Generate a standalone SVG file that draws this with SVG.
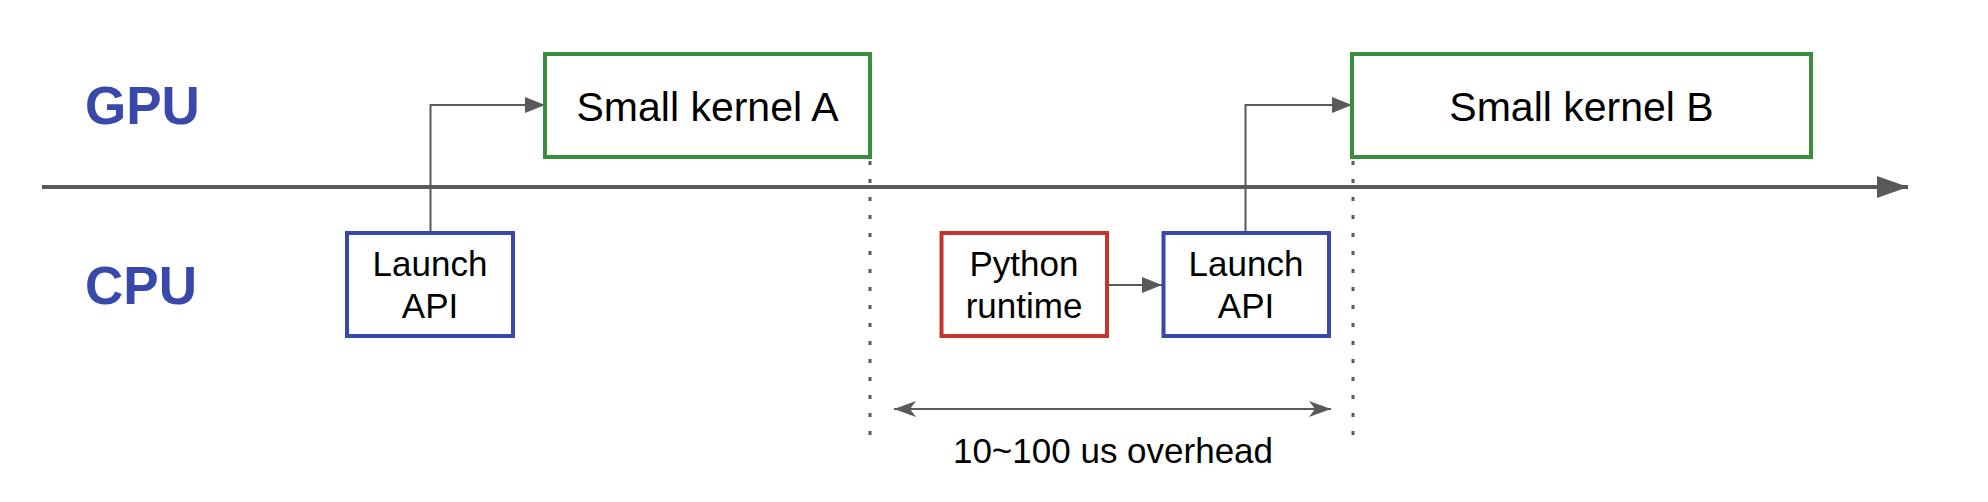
<svg xmlns="http://www.w3.org/2000/svg" width="1988" height="502" viewBox="0 0 1988 502">
<style>
text{font-family:"Liberation Sans",Arial,sans-serif;fill:#000}
.lane{font-weight:bold;font-size:53px;fill:#3949AB}
.gpu{fill:#fff;stroke:#388E3C;stroke-width:4}
.cpu{fill:#fff;stroke:#3949AB;stroke-width:4}
.py{fill:#fff;stroke:#C5352B;stroke-width:4}
.big{font-size:41px;text-anchor:middle}
.mid{font-size:35px;text-anchor:middle}
.conn{fill:none;stroke:#595959;stroke-width:2}
.dot{stroke:#595959;stroke-width:3;stroke-dasharray:4 14}
</style>
<defs>
<marker id="ah" markerWidth="20" markerHeight="16" refX="20" refY="8" orient="auto" markerUnits="userSpaceOnUse"><path d="M0,0 L20,8 L0,16 Z" fill="#595959"/></marker>
<marker id="big" markerWidth="31" markerHeight="22" refX="31" refY="11" orient="auto" markerUnits="userSpaceOnUse"><path d="M0,0 L31,11 L0,22 Z" fill="#595959"/></marker>
<marker id="open" markerWidth="22" markerHeight="16" refX="22" refY="8" orient="auto-start-reverse" markerUnits="userSpaceOnUse"><path d="M0,0 L22,8 L0,16 L6,8 Z" fill="#595959"/></marker>
</defs>
<g id="labels">
<text class="lane" x="85" y="124">GPU</text>
<text class="lane" x="85" y="304">CPU</text>
</g>
<g id="connectors">
<line x1="42" y1="187" x2="1908" y2="187" stroke="#595959" stroke-width="4" marker-end="url(#big)"/>
<line class="dot" x1="870" y1="161" x2="870" y2="436"/>
<line class="dot" x1="1353" y1="161" x2="1353" y2="436"/>
<path class="conn" d="M430.5,233 V105 H545" marker-end="url(#ah)"/>
<path class="conn" d="M1245.5,233 V105 H1352" marker-end="url(#ah)"/>
<line class="conn" x1="1107" y1="285" x2="1162" y2="285" marker-end="url(#ah)"/>
<line class="conn" x1="894" y1="409" x2="1331" y2="409" marker-start="url(#open)" marker-end="url(#open)"/>
</g>
<g id="kernelA">
<rect class="gpu" x="545" y="54" width="325" height="103"/>
<text class="big" x="707.5" y="121">Small kernel A</text>
</g>
<g id="kernelB">
<rect class="gpu" x="1352" y="54" width="459" height="103"/>
<text class="big" x="1581.5" y="121">Small kernel B</text>
</g>
<g id="launch1">
<rect class="cpu" x="347" y="233" width="166" height="103"/>
<text class="mid" x="430" y="276">Launch</text>
<text class="mid" x="430" y="318">API</text>
</g>
<g id="python">
<rect class="py" x="941.5" y="233" width="165.5" height="103"/>
<text class="mid" x="1024" y="276">Python</text>
<text class="mid" x="1024" y="318">runtime</text>
</g>
<g id="launch2">
<rect class="cpu" x="1163.5" y="233" width="165.5" height="103"/>
<text class="mid" x="1246" y="276">Launch</text>
<text class="mid" x="1246" y="318">API</text>
</g>
<g id="overhead">
<text class="mid" x="1113" y="463">10~100 us overhead</text>
</g>
</svg>
